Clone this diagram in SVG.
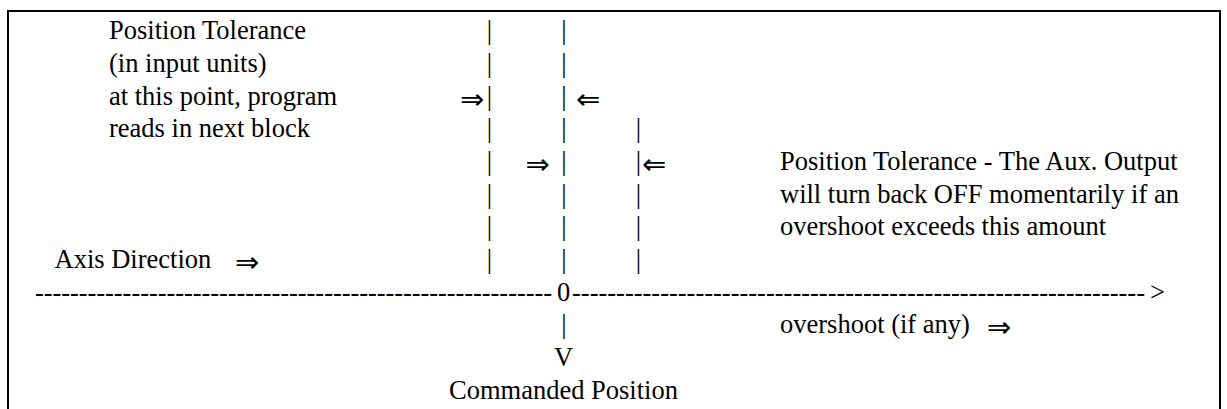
<svg xmlns="http://www.w3.org/2000/svg" width="1227" height="409" viewBox="0 0 1227 409">
<style>
  .t { font-family: "Liberation Serif", "Times New Roman", serif; font-size: 26.5px; fill: #000; }
  .m { text-anchor: middle; }
  .ar { font-family: "DejaVu Sans", sans-serif; font-size: 29px; fill: #000; }
  .frame { fill: none; stroke: #000; stroke-width: 2; }
</style>
<rect width="1227" height="409" fill="#fff"/>
<g id="frame">
  <path class="frame" d="M8,409 V11 H1220 V409"/>
</g>
<g id="left-note">
  <text class="t" x="109" y="39.3">Position Tolerance</text>
  <text class="t" x="109" y="72">(in input units)</text>
  <text class="t" x="109" y="104.7">at this point, program</text>
  <text class="t" x="109" y="137.3">reads in next block</text>
</g>
<g id="right-note">
  <text class="t" x="780" y="170">Position Tolerance - The Aux. Output</text>
  <text class="t" x="780" y="202.7">will turn back OFF momentarily if an</text>
  <text class="t" x="780" y="235.4">overshoot exceeds this amount</text>
</g>
<g id="axis-label">
  <text class="t" x="54.5" y="268">Axis Direction</text>
  <text class="ar" x="235" y="272">⇒</text>
</g>
<g id="overshoot-label">
  <text class="t" x="780" y="333.4">overshoot (if any)</text>
  <text class="ar" x="987" y="337.4">⇒</text>
</g>
<g id="commanded-position">
  <text class="t m" x="563.5" y="366.1">V</text>
  <text class="t m" x="563.5" y="398.8">Commanded Position</text>
</g>
<g id="connectors">
  <g id="col-a">
    <text class="t m" x="489.3" y="39.3">|</text>
    <text class="t m" x="489.3" y="72">|</text>
    <text class="t m" x="489.3" y="104.7">|</text>
    <text class="t m" x="489.3" y="137.3">|</text>
    <text class="t m" x="489.3" y="170">|</text>
    <text class="t m" x="489.3" y="202.7">|</text>
    <text class="t m" x="489.3" y="235.4">|</text>
    <text class="t m" x="489.3" y="268">|</text>
  </g>
  <g id="col-b">
    <text class="t m" x="564" y="39.3">|</text>
    <text class="t m" x="564" y="72">|</text>
    <text class="t m" x="564" y="104.7">|</text>
    <text class="t m" x="564" y="137.3">|</text>
    <text class="t m" x="564" y="170">|</text>
    <text class="t m" x="564" y="202.7">|</text>
    <text class="t m" x="564" y="235.4">|</text>
    <text class="t m" x="564" y="268">|</text>
    <text class="t m" x="564" y="333.4">|</text>
  </g>
  <g id="col-c">
    <text class="t m" x="638.5" y="137.3">|</text>
    <text class="t m" x="638.5" y="170">|</text>
    <text class="t m" x="638.5" y="202.7">|</text>
    <text class="t m" x="638.5" y="235.4">|</text>
    <text class="t m" x="638.5" y="268">|</text>
  </g>
  <g id="arrows">
    <text class="ar" x="460" y="108.7">⇒</text>
    <text class="ar" x="576" y="108.7">⇐</text>
    <text class="ar" x="525.5" y="174">⇒</text>
    <text class="ar" x="642" y="174">⇐</text>
  </g>
  <g id="axis-line">
    <text class="t" x="35" y="300.7" textLength="517" lengthAdjust="spacing">-----------------------------------------------------------</text>
    <text class="t m" x="563.5" y="300.7">0</text>
    <text class="t" x="572" y="300.7" textLength="573" lengthAdjust="spacing">-----------------------------------------------------------------</text>
    <text class="t" x="1150" y="300.7">&gt;</text>
  </g>
</g>
</svg>
